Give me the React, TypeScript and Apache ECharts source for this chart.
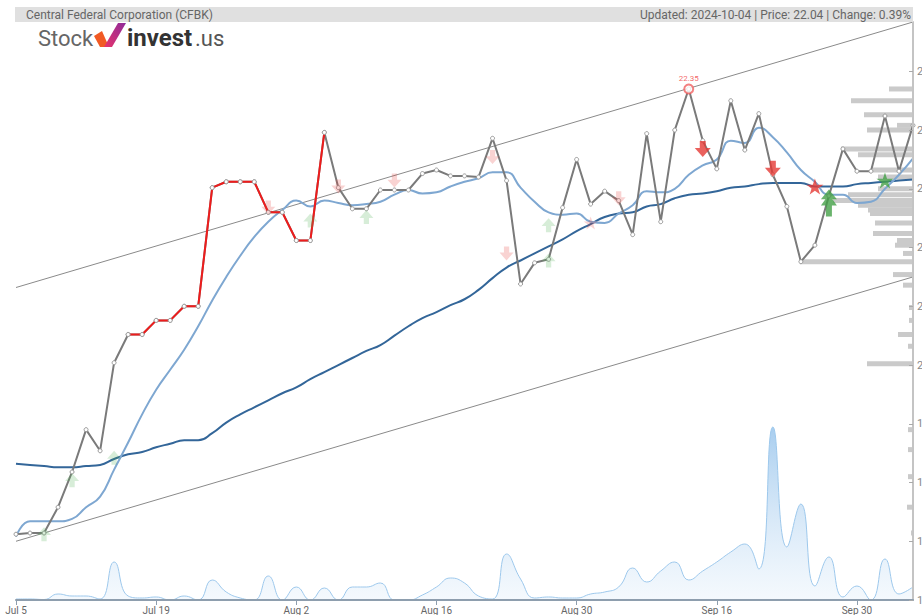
import React, { useEffect, useRef } from "react";
import * as echarts from "echarts";

const dates = [
  "Jul 5", "Jul 8", "Jul 9", "Jul 10", "Jul 11", "Jul 12", "Jul 15", "Jul 16", "Jul 17", "Jul 18",
  "Jul 19", "Jul 22", "Jul 23", "Jul 24", "Jul 25", "Jul 26", "Jul 29", "Jul 30", "Jul 31", "Aug 1",
  "Aug 2", "Aug 5", "Aug 6", "Aug 7", "Aug 8", "Aug 9", "Aug 12", "Aug 13", "Aug 14", "Aug 15",
  "Aug 16", "Aug 19", "Aug 20", "Aug 21", "Aug 22", "Aug 23", "Aug 26", "Aug 27", "Aug 28", "Aug 29",
  "Aug 30", "Sep 3", "Sep 4", "Sep 5", "Sep 6", "Sep 9", "Sep 10", "Sep 11", "Sep 12", "Sep 13",
  "Sep 16", "Sep 17", "Sep 18", "Sep 19", "Sep 20", "Sep 23", "Sep 24", "Sep 25", "Sep 26", "Sep 27",
  "Sep 30", "Oct 1", "Oct 2", "Oct 3", "Oct 4",
];

const closePrices = [
  18.56, 18.57, 18.57, 18.79, 19.09, 19.45, 19.27, 20.02, 20.26, 20.26,
  20.38, 20.38, 20.5, 20.5, 21.51, 21.56, 21.56, 21.56, 21.3, 21.3,
  21.06, 21.06, 21.98, 21.51, 21.33, 21.33, 21.49, 21.49, 21.49, 21.63,
  21.66, 21.61, 21.61, 21.6, 21.93, 21.57, 20.69, 20.87, 20.9, 21.34,
  21.75, 21.37, 21.48, 21.4, 21.11, 21.97, 21.22, 22.0, 22.35, 21.91,
  21.67, 22.25, 21.83, 22.14, 21.62, 21.35, 20.88, 21.02, 21.44, 21.84,
  21.65, 21.65, 22.12, 21.65, 22.04,
];

const redStart = 8;
const redEnd = 22;

const shortMA = [
  18.54, 18.67, 18.67, 18.67, 18.69, 18.79, 18.88, 19.11, 19.34, 19.58,
  19.79, 19.96, 20.13, 20.33, 20.55, 20.75, 20.93, 21.09, 21.22, 21.32,
  21.4, 21.35, 21.4, 21.38, 21.36, 21.37, 21.39, 21.45, 21.49, 21.46,
  21.47, 21.52, 21.56, 21.59, 21.64, 21.64, 21.51, 21.39, 21.3, 21.28,
  21.29, 21.22, 21.21, 21.29, 21.36, 21.48, 21.47, 21.5, 21.62, 21.7,
  21.75, 21.91, 21.89, 22.02, 21.94, 21.81, 21.66, 21.56, 21.45, 21.45,
  21.38, 21.39, 21.5, 21.62, 21.76,
];

const longMA = [
  19.16, 19.15, 19.14, 19.13, 19.13, 19.14, 19.15, 19.2, 19.24, 19.26,
  19.3, 19.33, 19.36, 19.36, 19.42, 19.51, 19.58, 19.64, 19.7, 19.76,
  19.81, 19.88, 19.94, 20.0, 20.06, 20.12, 20.17, 20.25, 20.33, 20.4,
  20.45, 20.51, 20.56, 20.64, 20.74, 20.83, 20.89, 20.95, 21.01, 21.07,
  21.14, 21.2, 21.26, 21.29, 21.3, 21.35, 21.37, 21.42, 21.45, 21.46,
  21.48, 21.51, 21.52, 21.54, 21.55, 21.55, 21.55, 21.52, 21.52, 21.52,
  21.54, 21.55, 21.56, 21.57, 21.58,
];

const volumes = [
  1, 1, 0.5, 6, 4, 4, 1, 38, 4, 2,
  3, 0, 4, 0, 20, 8, 2, 0, 24, 0,
  13, 0, 12, 0, 13, 13, 17, 0, 0, 5,
  13, 22, 17, 4, 1, 46, 21, 2, 3, 2,
  2, 6, 8, 13, 32, 18, 29, 38, 20, 29,
  38, 48, 56, 31, 173, 53, 96, 14, 43, 3,
  14, 0, 41, 6, 13,
];

const upperChannel = [[0, 20.66], [64, 22.92]];
const lowerChannel = [[0, 18.5], [64, 20.75]];

const profilePrices = [
  22.35, 22.25, 22.13, 22.04, 22.0, 21.84, 21.79, 21.66, 21.6, 21.5,
  21.45, 21.4, 21.36, 21.32, 21.29, 21.21, 21.12, 21.06, 21.02, 20.95,
  20.88, 20.77, 20.68, 20.49, 20.38, 20.26, 20.16, 20.01, 19.45, 19.28,
  19.05, 18.79, 18.57,
];
const profileVolumes = [
  24, 62, 49, 16, 46, 72, 55, 40, 35, 35,
  65, 80, 55, 45, 43, 38, 40, 16, 18, 10,
  113, 20, 10, 4, 4, 15, 5, 46, 5, 5,
  5, 6, 2,
];

const weakBuy = [[2, 18.56], [4, 19.02], [7, 19.21], [21, 21.23], [25, 21.26], [38, 21.19], [38, 20.89]];
const weakSell = [[18, 21.34], [23, 21.52], [27, 21.57], [34, 21.77], [35, 20.95], [43, 21.42]];
const weakSellStar = [[41, 21.21]];
const strongSell = [[49, 21.84], [54, 21.67]];
const sellStar = [[57, 21.52]];
const strongBuy = [[58, 21.38]];
const buyStar = [[62, 21.57]];
const peakPoint = [[48, 22.35]];

const yTicks = { min: 18, max: 22.92, interval: 0.5 };

const arrowDown = "path://M5,0 L11,0 L11,7 L16,7 L8,16 L0,7 L5,7 Z";
const arrowUp = "path://M8,0 L16,9 L11,9 L11,16 L5,16 L5,9 L0,9 Z";
const starPath =
  "path://M50,0 L61.8,35.1 L98.1,35.1 L68.8,56.8 L79.4,90.9 L50,69.5 L20.6,90.9 L31.2,56.8 L1.9,35.1 L38.2,35.1 Z";
const doubleUp = "path://M8,0 L16,9 L11.5,9 L16,15 L11,15 L11,25 L5,25 L5,15 L0,15 L4.5,9 L0,9 Z";

export default function App() {
  const ref = useRef<HTMLDivElement>(null);
  useEffect(() => {
    if (!ref.current) return;
    const chart = echarts.init(ref.current, undefined, { renderer: "svg" });
    const redSeg = closePrices.map((v, i) => (i >= redStart && i <= redEnd ? v : null));
    const narrow = "'Liberation Sans Narrow', 'Roboto', sans-serif";

    const option: any = {
      animation: false,
      backgroundColor: "#ffffff",
      grid: [
        { left: 16, right: 9, top: 22, bottom: 15, outerBoundsMode: "none", containLabel: false },
        { left: 16, right: 9, top: 400, bottom: 15, outerBoundsMode: "none", containLabel: false },
      ],
      xAxis: [
        {
          type: "category",
          gridIndex: 0,
          data: dates,
          boundaryGap: false,
          axisLine: { show: true, lineStyle: { color: "#8e9eae", width: 2 } },
          axisTick: { show: true, interval: 9, length: 5, lineStyle: { color: "#8e9eae" } },
          axisLabel: { interval: 9, fontSize: 10, color: "#666", margin: 5, fontFamily: "Roboto, sans-serif" },
          splitLine: { show: false },
          z: 10,
        },
        { type: "value", gridIndex: 0, inverse: true, min: 0, max: 897, show: false },
        { type: "category", gridIndex: 1, data: dates, boundaryGap: false, show: false },
      ],
      yAxis: [
        {
          type: "value",
          gridIndex: 0,
          position: "right",
          min: yTicks.min,
          max: yTicks.max,
          interval: yTicks.interval,
          axisLine: { show: true, lineStyle: { color: "#c4c4c4", width: 2 } },
          axisTick: { show: true, inside: true, length: 4, lineStyle: { color: "#aaa" } },
          axisLabel: { showMaxLabel: false, fontSize: 11, color: "#888", margin: 4, fontFamily: "Roboto, sans-serif" },
          splitLine: { show: false },
          z: 10,
        },
        { type: "value", gridIndex: 1, min: 0, max: 200, show: false },
      ],
      graphic: [
        { type: "rect", shape: { x: 15, y: 7, width: 898, height: 15 }, style: { fill: "#e0e0e0" }, z: 100 },
        {
          type: "text", x: 26, y: 15,
          style: { text: "Central Federal Corporation (CFBK)", fontSize: 12, fontFamily: narrow, fill: "#666", verticalAlign: "middle" },
          z: 101,
        },
        {
          type: "text", x: 911, y: 15,
          style: { text: "Updated: 2024-10-04 | Price: 22.04 | Change: 0.39%", fontSize: 12, fontFamily: narrow, fill: "#666", align: "right", verticalAlign: "middle" },
          z: 101,
        },
        {
          type: "text", x: 38, y: 38,
          style: { text: "Stock", fontSize: 22, fontFamily: narrow, fill: "#666", verticalAlign: "middle" },
          z: 101,
        },
        {
          type: "polygon",
          shape: { points: [[94, 36], [102, 31], [109, 47], [100, 47]] },
          style: { fill: "#f15a24" },
          z: 101,
        },
        {
          type: "polygon",
          shape: { points: [[104, 47], [118, 23], [126, 23], [112, 47]] },
          style: {
            fill: new echarts.graphic.LinearGradient(0, 1, 1, 0, [
              { offset: 0, color: "#e8336b" },
              { offset: 1, color: "#8e2a9a" },
            ]),
          },
          z: 101,
        },
        {
          type: "text", x: 127, y: 38,
          style: { text: "invest", fontSize: 24, fontWeight: "bold", fontFamily: narrow, fill: "#333", verticalAlign: "middle" },
          z: 101,
        },
        {
          type: "text", x: 195, y: 38,
          style: { text: ".us", fontSize: 22, fontFamily: narrow, fill: "#555", verticalAlign: "middle" },
          z: 101,
        },
      ],
      series: [
        {
          name: "Volume",
          type: "line",
          xAxisIndex: 2,
          yAxisIndex: 1,
          data: volumes,
          smooth: 0.5,
          showSymbol: false,
          lineStyle: { color: "#9dc8ec", width: 1 },
          areaStyle: {
            color: new echarts.graphic.LinearGradient(0, 0, 0, 1, [
              { offset: 0, color: "rgba(110,172,228,0.85)" },
              { offset: 1, color: "rgba(225,238,250,0.5)" },
            ]),
          },
          z: 1,
        },
        {
          name: "Profile",
          type: "custom",
          xAxisIndex: 1,
          yAxisIndex: 0,
          data: profilePrices.map((p, i) => [p, profileVolumes[i]]),
          encode: { x: 1, y: 0 },
          renderItem: (params: any, api: any) => {
            const price = api.value(0);
            const vol = api.value(1);
            const p1 = api.coord([vol, price]);
            const p0 = api.coord([0, price]);
            return {
              type: "rect",
              shape: { x: p1[0], y: p1[1] - 2.5, width: p0[0] - p1[0], height: 5 },
              style: { fill: "#cacaca" },
            };
          },
          z: 2,
        },
        {
          name: "Upper",
          type: "line",
          data: upperChannel,
          showSymbol: false,
          lineStyle: { color: "#8a8a8a", width: 1 },
          z: 3,
        },
        {
          name: "Lower",
          type: "line",
          data: lowerChannel,
          showSymbol: false,
          lineStyle: { color: "#8a8a8a", width: 1 },
          z: 3,
        },
        {
          name: "Long MA",
          type: "line",
          data: longMA,
          smooth: true,
          showSymbol: false,
          lineStyle: { color: "#336699", width: 2 },
          z: 4,
        },
        {
          name: "Short MA",
          type: "line",
          data: shortMA,
          smooth: true,
          showSymbol: false,
          lineStyle: { color: "#7ea7d1", width: 2 },
          z: 4,
        },
        {
          name: "Close",
          type: "line",
          data: closePrices,
          symbol: "circle",
          symbolSize: 4,
          itemStyle: { color: "#ffffff", borderColor: "#999", borderWidth: 1 },
          lineStyle: { color: "#7a7a7a", width: 2 },
          z: 5,
        },
        {
          name: "Close highlight",
          type: "line",
          data: redSeg,
          symbol: "circle",
          symbolSize: 4,
          itemStyle: { color: "#ffffff", borderColor: "#999", borderWidth: 1 },
          lineStyle: { color: "#ee1c1c", width: 2 },
          z: 6,
        },
        {
          name: "Weak buy",
          type: "scatter",
          data: weakBuy,
          symbol: arrowUp,
          symbolSize: [14, 14],
          itemStyle: { color: "rgba(76,175,80,0.28)" },
          z: 7,
        },
        {
          name: "Weak sell",
          type: "scatter",
          data: weakSell,
          symbol: arrowDown,
          symbolSize: [14, 14],
          itemStyle: { color: "rgba(229,57,53,0.28)" },
          z: 7,
        },
        {
          name: "Weak sell star",
          type: "scatter",
          data: weakSellStar,
          symbol: starPath,
          symbolSize: [14, 13],
          itemStyle: { color: "rgba(229,57,53,0.28)" },
          z: 7,
        },
        {
          name: "Sell",
          type: "scatter",
          data: strongSell,
          symbol: arrowDown,
          symbolSize: [16, 16],
          itemStyle: { color: "#e53935" },
          z: 8,
        },
        {
          name: "Sell star",
          type: "scatter",
          data: sellStar,
          symbol: starPath,
          symbolSize: [17, 16],
          itemStyle: { color: "#e53935" },
          z: 8,
        },
        {
          name: "Buy",
          type: "scatter",
          data: strongBuy,
          symbol: doubleUp,
          symbolSize: [16, 27],
          itemStyle: { color: "#43a047" },
          z: 8,
        },
        {
          name: "Buy star",
          type: "scatter",
          data: buyStar,
          symbol: starPath,
          symbolSize: [17, 16],
          itemStyle: { color: "#43a047" },
          z: 8,
        },
        {
          name: "Peak",
          type: "scatter",
          data: peakPoint,
          symbol: "emptyCircle",
          symbolSize: 9,
          itemStyle: { color: "#f06060", borderColor: "#f06060", borderWidth: 1 },
          label: {
            show: true,
            position: "top",
            distance: 1,
            formatter: (p: any) => p.value[1].toFixed(2),
            fontSize: 8,
            color: "#f04040",
            fontFamily: "Roboto, sans-serif",
          },
          z: 9,
        },
      ],
    };
    chart.setOption(option);
    return () => chart.dispose();
  }, []);
  return <div ref={ref} style={{ width: 922, height: 615, position: "absolute", left: 0, top: 0 }} />;
}
